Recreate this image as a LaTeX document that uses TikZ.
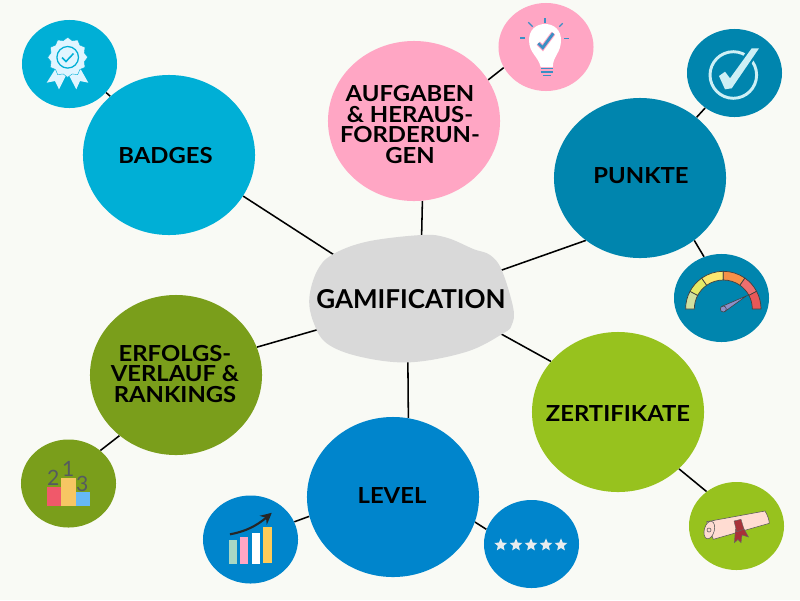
\documentclass[tikz,border=0pt]{standalone}
\usepackage{fontspec}
\setmainfont{Lato}
\newfontfamily\bubblefont[FakeStretch=1.08]{Lato}
\usetikzlibrary{arrows.meta, bending, backgrounds, shapes.geometric}

\definecolor{paper}{HTML}{F9FAF5}
\definecolor{hubgray}{HTML}{D9D9D9}
\definecolor{badgeblue}{HTML}{00AFD6}
\definecolor{taskpink}{HTML}{FFA6C4}
\definecolor{pointteal}{HTML}{0085AE}
\definecolor{certgreen}{HTML}{97C21E}
\definecolor{rankolive}{HTML}{7A9E1B}
\definecolor{levelblue}{HTML}{0085CC}
\definecolor{iconlight}{HTML}{E0F5FF}
\definecolor{iconcheck}{HTML}{CDEFF5}
\definecolor{bulbblue}{HTML}{3A8FC4}
\definecolor{scrollpink}{HTML}{FFDCD2}
\definecolor{ribbonred}{HTML}{A8323A}
\definecolor{inkgray}{HTML}{555A60}
\definecolor{barmint}{HTML}{A8D8C4}
\definecolor{baryellow}{HTML}{FFCB57}
\definecolor{podiumred}{HTML}{F0596A}
\definecolor{podiumyellow}{HTML}{F7C663}
\definecolor{podiumblue}{HTML}{66B8F5}
\definecolor{ratingwhite}{HTML}{E8ECEE}
\definecolor{needleblue}{HTML}{8C8FC8}

\tikzset{
  bigbubble/.style={ellipse, minimum width=4.3cm, minimum height=4cm, inner sep=0pt, fill=#1},
  smallbubble/.style={ellipse, minimum width=2.375cm, minimum height=2.2cm, inner sep=0pt, fill=#1},
  bubbletext/.style={align=center, font=\fontsize{15.7}{14.7}\bubblefont\bfseries, text=black},
  link/.style={line width=1.1pt, black},
  podiumdigit/.style={font=\fontsize{15}{15}\selectfont, text=inkgray, inner sep=0pt}
}

\begin{document}
\begin{tikzpicture}[x=0.025cm, y=-0.025cm]
  \useasboundingbox (0,0) rectangle (800,600);

  % Central blob
  \fill[hubgray] plot[smooth cycle, tension=0.6] coordinates {
    (331.7,255) (366.7,241.7) (421.7,235) (446.7,237.7) (473.3,249) (490,255)
    (501.7,270) (513.3,308.3) (511.7,325) (503.3,333.3) (466.7,351.7) (410,362.3)
    (360,356.7) (326.7,343.3) (313.3,321.7) (309.3,298.3) (316.7,271.7)};
  \node[ellipse, minimum width=4.8cm, minimum height=3cm, inner sep=0pt] (hub) at (411,298) {};
  \node[align=center, font=\fontsize{18.5}{20}\selectfont\bfseries] (hubtext) at (411,299) {GAMIFICATION};

  % Big bubbles
  \node[bigbubble=badgeblue] (badges) at (169,155) {};
  \node[bigbubble=taskpink] (tasks) at (414,121) {};
  \node[bigbubble=pointteal] (points) at (640,178) {};
  \node[bigbubble=certgreen] (certs) at (618,412) {};
  \node[bigbubble=levelblue] (level) at (393,497) {};
  \node[bigbubble=rankolive] (ranks) at (176,375) {};

  % Small bubbles
  \node[smallbubble=badgeblue] (ribbon) at (69.5,64) {};
  \node[smallbubble=taskpink] (bulb) at (546,47) {};
  \node[smallbubble=pointteal] (check) at (734.5,73) {};
  \node[smallbubble=pointteal] (gauge) at (721.5,298) {};
  \node[smallbubble=certgreen] (scroll) at (736.5,526) {};
  \node[smallbubble=levelblue] (chart) at (250.5,539.5) {};
  \node[smallbubble=levelblue] (rating) at (531.5,544) {};
  \node[smallbubble=rankolive] (podium) at (68.5,483.5) {};

  % Labels
  \node[bubbletext] (badgestext) at (165.5,156) {BADGES};
  \node[bubbletext] (taskstext) at (410,124.5) {AUFGABEN\\\& HERAUS-\\FORDERUN-\\GEN};
  \node[bubbletext] (pointstext) at (641,176) {PUNKTE};
  \node[bubbletext] (certstext) at (618,414) {ZERTIFIKATE};
  \node[bubbletext] (leveltext) at (392,496) {LEVEL};
  \node[bubbletext] (rankstext) at (175,374) {ERFOLGS-\\VERLAUF \&\\RANKINGS};

  % Connectors and paper
  \begin{scope}[on background layer]
    \fill[paper] (0,0) rectangle (800,600);
    \draw[link] (hub.151.7) -- (badges.-29.5);
    \draw[link] (hub.80) -- (tasks.-84);
    \draw[link] (hub.17) -- (points.-131.3);
    \draw[link] (hub.-21) -- (certs.143.9);
    \draw[link] (hub.267) -- (level.79.5);
    \draw[link] (hub.199.3) -- (ranks.19.3);
    \draw[link] (badges.135) -- (ribbon.-38);
    \draw[link] (tasks.29.3) -- (bulb.-154);
    \draw[link] (points.47.5) -- (check.-130.8);
    \draw[link] (points.-49.6) -- (gauge.113.8);
    \draw[link] (certs.-43.5) -- (scroll.131);
    \draw[link] (level.193.5) -- (chart.22.4);
    \draw[link] (level.-17) -- (rating.162.5);
    \draw[link] (ranks.227.5) -- (podium.46.8);
  \end{scope}

  % Ribbon icon
  \fill[iconlight] (56,68) -- (46.7,82.7) -- (55,81) -- (59,89.3) -- (66.7,74) -- cycle;
  \fill[iconlight] (80,68) -- (88.3,82.7) -- (80,81) -- (76.3,89.3) -- (68.3,74) -- cycle;
  \node[star, star points=12, star point ratio=1.16, minimum size=1cm, inner sep=0pt,
    fill=iconlight, draw=badgeblue, line width=0.3pt] (ribbonstar) at (67.7,57.3) {};
  \draw[badgeblue, line width=0.9pt] (67.7,57.3) circle[radius=10.8];
  \draw[badgeblue, line width=1.1pt] (62,57.5) -- (66,61.5) -- (73.5,53.5);

  % Bulb icon
  \fill[white] (540.7,67) .. controls (538,56) and (529,53) .. (529,40)
    .. controls (529,30) and (536,24) .. (545,24)
    .. controls (554,24) and (561,30) .. (561,40)
    .. controls (561,53) and (553,56) .. (552.7,67) -- cycle;
  \draw[taskpink, line width=3.4pt] (538.3,43.3) -- (542.7,47.7) -- (553.3,33.3);
  \draw[bulbblue, line width=2pt] (538.3,43.3) -- (542.7,47.7) -- (553.3,33.3);
  \foreach \ya/\xa/\xb in {68.5/541/552.5, 72/541/552.5, 75.5/543/550.5}
    \draw[bulbblue, line width=1.3pt] (\xa,\ya) -- (\xb,\ya);
  \foreach \xa/\ya/\xb/\yb in {528.3/22.3/532.7/26.7, 545/18.3/545/22.7, 559.3/26.7/562.7/23.3,
      520/38/525/38, 564.3/38.3/568.7/38.3}
    \draw[bulbblue, line width=0.8pt] (\xa,\ya) -- (\xb,\yb);

  % Check icon
  \draw[iconcheck, line width=2.1pt] (733.3,75) circle[radius=23.3];
  \fill[iconcheck, preaction={draw=pointteal, line width=3.2pt, line join=round}]
    (719,76) -- (725,71.7) -- (730,78.3) -- (751.7,48.3) -- (759,48.3) -- (731.7,88.3) -- (725,89.3) -- cycle;

  % Gauge icon
  \begin{scope}[shift={(723.3,309)}, yscale=-1]
    \foreach \anga/\angb/\segcol in {180/152/D0E0A0, 152/125/E4EA66, 125/90/FBE870,
        90/55/F79048, 55/28/EC6F6F, 28/0/E85858} {
      \definecolor{segcolor}{HTML}{\segcol}
      \filldraw[fill=segcolor, draw=black!75, line width=0.5pt]
        (\anga:37.7) arc[start angle=\anga, end angle=\angb, radius=37.7]
        -- (\angb:29) arc[start angle=\angb, end angle=\anga, radius=29] -- cycle;
    }
    \filldraw[fill=needleblue, draw=black!75, line width=0.4pt]
      (-1.4,2.6) -- (23.4,13.3) -- (1.4,-2.6) -- cycle;
    \filldraw[fill=needleblue, draw=black!75, line width=0.4pt] (0,0) circle[radius=3];
  \end{scope}

  % Scroll icon
  \filldraw[fill=scrollpink, draw=black!65, line width=0.4pt]
    (706.7,521.7) -- (765,511) .. controls (768,516) and (769,520) .. (769.3,523.3) -- (713.3,539.3) -- cycle;
  \filldraw[fill=scrollpink, draw=black!65, line width=0.4pt, rotate around={-15:(709.3,530)}]
    (709.3,530) ellipse[x radius=5, y radius=9];
  \draw[black!65, line width=0.4pt] (709,530) circle[radius=2];
  \filldraw[fill=ribbonred, draw=black!60, line width=0.3pt]
    (735.5,529) -- (734.3,542.7) -- (738,539.5) -- (741,542.7) -- (742,535) -- (748.5,537) -- (743.5,528) -- cycle;
  \filldraw[fill=ribbonred, draw=black!60, line width=0.3pt]
    (734,521) -- (741,519.3) -- (744,529.3) -- (736.7,531.7) -- cycle;

  % Chart icon
  \fill[barmint] (229.3,540) rectangle (236.7,564);
  \fill[taskpink] (240.3,536.7) rectangle (248.3,564);
  \fill[white] (251.7,532.7) rectangle (260,564);
  \fill[baryellow] (263.3,527.3) rectangle (272.3,563.3);
  \draw[-{Stealth[length=8pt, width=8pt, bend]}, line width=1.5pt, black!85]
    (230,534.3) .. controls (248,531) and (260,524) .. (271.7,512.7);

  % Rating icon
  \foreach \xa [count=\i] in {500.7,516,531,546,561}
    \node[star, star points=5, star point ratio=2.2, minimum size=0.33cm, inner sep=0pt,
      fill=ratingwhite] (ratingstar\i) at (\xa,545) {};

  % Podium icon
  \fill[podiumred] (46.7,486.7) rectangle (60.7,505.7);
  \fill[podiumyellow] (60.7,477.7) rectangle (76,505.7);
  \fill[podiumblue] (76,492.3) rectangle (90,505.7);
  \node[podiumdigit] (digittwo) at (53.3,478.3) {2};
  \node[podiumdigit] (digitone) at (68.3,469.3) {1};
  \node[podiumdigit] (digitthree) at (82.3,484.3) {3};
\end{tikzpicture}
\end{document}
